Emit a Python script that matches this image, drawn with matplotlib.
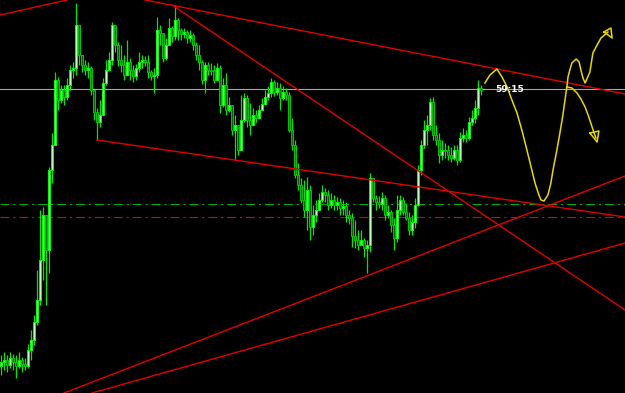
import numpy as np
import matplotlib
matplotlib.use('Agg')
import matplotlib.pyplot as plt

closes = [362, 360, 365, 358, 362, 366, 360, 364, 366, 350,
          340, 322, 300, 260, 215, 250, 170, 145, 80, 100,
          90, 97, 85, 70, 68, 25, 55, 65, 70, 68,
          90, 112, 122, 115, 83, 70, 60, 25, 45, 60,
          65, 75, 62, 70, 76, 68, 62, 60, 62, 72,
          76, 75, 30, 33, 58, 45, 28, 36, 20, 30,
          34, 32, 38, 35, 45, 55, 62, 80, 65, 70,
          70, 80, 68, 105, 85, 110, 105, 130, 125, 150,
          120, 98, 120, 125, 115, 118, 110, 104, 97, 93,
          82, 92, 88, 98, 92, 95, 130, 145, 175, 185,
          200, 210, 190, 227, 215, 210, 200, 192, 195, 205,
          200, 205, 202, 208, 206, 215, 218, 236, 240, 245,
          240, 248, 245, 178, 198, 202, 204, 198, 215, 212,
          225, 238, 210, 200, 212, 218, 230, 222, 205, 170,
          145, 130, 125, 102, 135, 140, 155, 150, 150, 155,
          158, 150, 160, 138, 135, 138, 122, 118, 108, 88,
          90]
highs = [355, 352, 355, 352, 354, 355, 352, 357, 358, 344,
         330, 315, 270, 210, 207, 227, 167, 133, 72, 77,
         85, 85, 78, 65, 62, 3, 50, 60, 60, 62,
         66, 95, 108, 100, 78, 60, 52, 22, 30, 42,
         45, 55, 40, 58, 65, 64, 52, 55, 56, 55,
         70, 68, 17, 25, 40, 38, 18, 26, 5, 18,
         28, 28, 30, 30, 33, 42, 45, 60, 62, 62,
         63, 65, 63, 65, 78, 73, 97, 105, 115, 128,
         95, 93, 95, 103, 108, 110, 105, 98, 90, 86,
         78, 80, 82, 83, 86, 88, 92, 118, 140, 163,
         178, 180, 177, 185, 205, 200, 193, 185, 188, 190,
         193, 195, 197, 198, 200, 202, 210, 213, 220, 230,
         230, 238, 240, 173, 178, 195, 196, 192, 195, 205,
         210, 218, 195, 195, 197, 203, 212, 215, 198, 165,
         140, 120, 115, 98, 97, 125, 133, 140, 143, 145,
         147, 145, 145, 132, 128, 130, 117, 110, 100, 80,
         85]
lows = [375, 370, 372, 368, 370, 378, 368, 372, 370, 368,
        360, 345, 325, 305, 280, 305, 273, 183, 145, 110,
        103, 105, 100, 90, 78, 75, 65, 72, 75, 78,
        95, 120, 140, 127, 97, 85, 70, 65, 52, 66,
        72, 80, 70, 80, 82, 80, 72, 68, 66, 78,
        80, 93, 78, 45, 62, 60, 40, 42, 40, 40,
        40, 38, 43, 42, 50, 60, 70, 84, 93, 75,
        75, 83, 75, 113, 107, 115, 112, 135, 160, 155,
        140, 122, 127, 135, 125, 122, 118, 110, 105, 100,
        97, 96, 95, 110, 100, 100, 132, 150, 178, 190,
        203, 217, 230, 240, 235, 222, 210, 202, 202, 210,
        208, 210, 210, 215, 215, 222, 224, 247, 248, 250,
        245, 257, 273, 252, 202, 210, 208, 210, 220, 218,
        232, 250, 242, 215, 215, 220, 235, 235, 228, 206,
        175, 148, 145, 130, 140, 145, 163, 160, 158, 160,
        162, 160, 165, 162, 142, 142, 140, 125, 123, 115,
        95]

# trend lines: (bar, level) anchor pairs
trend_lines = [
    [(-0.3, 15), (22, 0)],
    [(48, 0), (208, 94)],
    [(57, 5), (208, 310)],
    [(32, 140), (208, 217)],
    [(21, 393), (208, 176)],
    [(30.3, 393), (208, 243)],
]
bid_level = 89
green_level = 204
red_level = 217

# hand drawn forecast
fc_x = [161.3, 163, 165.3, 167, 168.7, 170.3, 172, 173.7, 175.3, 176.7,
        178, 179.3, 180, 181, 182.3, 183.3, 184, 185.3, 186.3, 187.3,
        188, 188.7, 189, 189.7, 190.3, 191.7, 192.7, 193.3, 194, 194.7,
        195.3, 196.3, 197.3, 198.7, 200, 202.3]
fc_y = [83, 75, 69, 77, 87, 100, 113, 131, 150, 167,
        183, 195, 200, 201, 195, 183, 170, 150, 133, 115,
        100, 85, 77, 69, 63, 59, 62, 70, 78, 83,
        79, 72, 53, 45, 38, 32]
br_x = [188.7, 190.3, 192, 193.3, 194.7, 195.7, 196.7, 197.7, 198.3]
br_y = [87, 88, 93, 99, 107, 115, 124, 133, 138]
arrow1_x = [201, 203.3, 203.7, 201]
arrow1_y = [32, 28, 38, 32]
arrow2_x = [196.3, 199.3, 198.7, 196.3]
arrow2_y = [133, 131, 142, 133]

closes = np.array(closes, dtype=float)
opens = np.concatenate([[closes[0] + 4], closes[:-1]])
highs = np.minimum(np.array(highs, dtype=float), np.minimum(opens, closes))
lows = np.maximum(np.array(lows, dtype=float), np.maximum(opens, closes))
bars = np.arange(len(closes))
bull = closes < opens

fig = plt.figure(figsize=(6.25, 3.93), dpi=100)
ax = fig.add_axes([0, 0, 1, 1])
ax.set_facecolor('black')
fig.patch.set_facecolor('black')

ax.axhline(bid_level, color='#a8a8a8', lw=0.8, zorder=1)
ax.axhline(green_level, color='#00b000', lw=0.8, ls=(0, (8, 3.5, 2, 3.5)), zorder=1)
ax.axhline(red_level, color='#e80000', lw=0.8, ls=(0, (8, 3.5, 2, 3.5)), zorder=1)

ax.vlines(bars, highs, lows, color='#00e800', lw=0.9, zorder=2)
body_lo = np.minimum(opens, closes)
body_h = np.maximum(np.abs(opens - closes), 1)
ax.bar(bars[bull], body_h[bull], bottom=body_lo[bull], width=0.7,
       color='#b8ffb8', edgecolor='#00ff00', lw=0.7, zorder=3)
ax.bar(bars[~bull], body_h[~bull], bottom=body_lo[~bull], width=0.7,
       color='#006800', edgecolor='#00c800', lw=0.7, zorder=3)

for (x0, y0), (x1, y1) in trend_lines:
    ax.plot([x0, x1], [y0, y1], color='#e00000', lw=1.0, zorder=4)

ax.plot(fc_x, fc_y, color='#e8d800', lw=1.1, zorder=5)
ax.plot(br_x, br_y, color='#e8d800', lw=1.1, zorder=5)
ax.plot(arrow1_x, arrow1_y, color='#e8d800', lw=1.1, zorder=5)
ax.plot(arrow2_x, arrow2_y, color='#e8d800', lw=1.1, zorder=5)

ax.text(169.7, bid_level, '59:15', color='white', fontsize=6.5,
        fontweight='bold', ha='center', va='center', zorder=6)

ax.set_xlim(-0.33, 208)
ax.set_ylim(393, 0)
ax.axis('off')

fig.savefig('out.png', dpi=100, facecolor='black')
